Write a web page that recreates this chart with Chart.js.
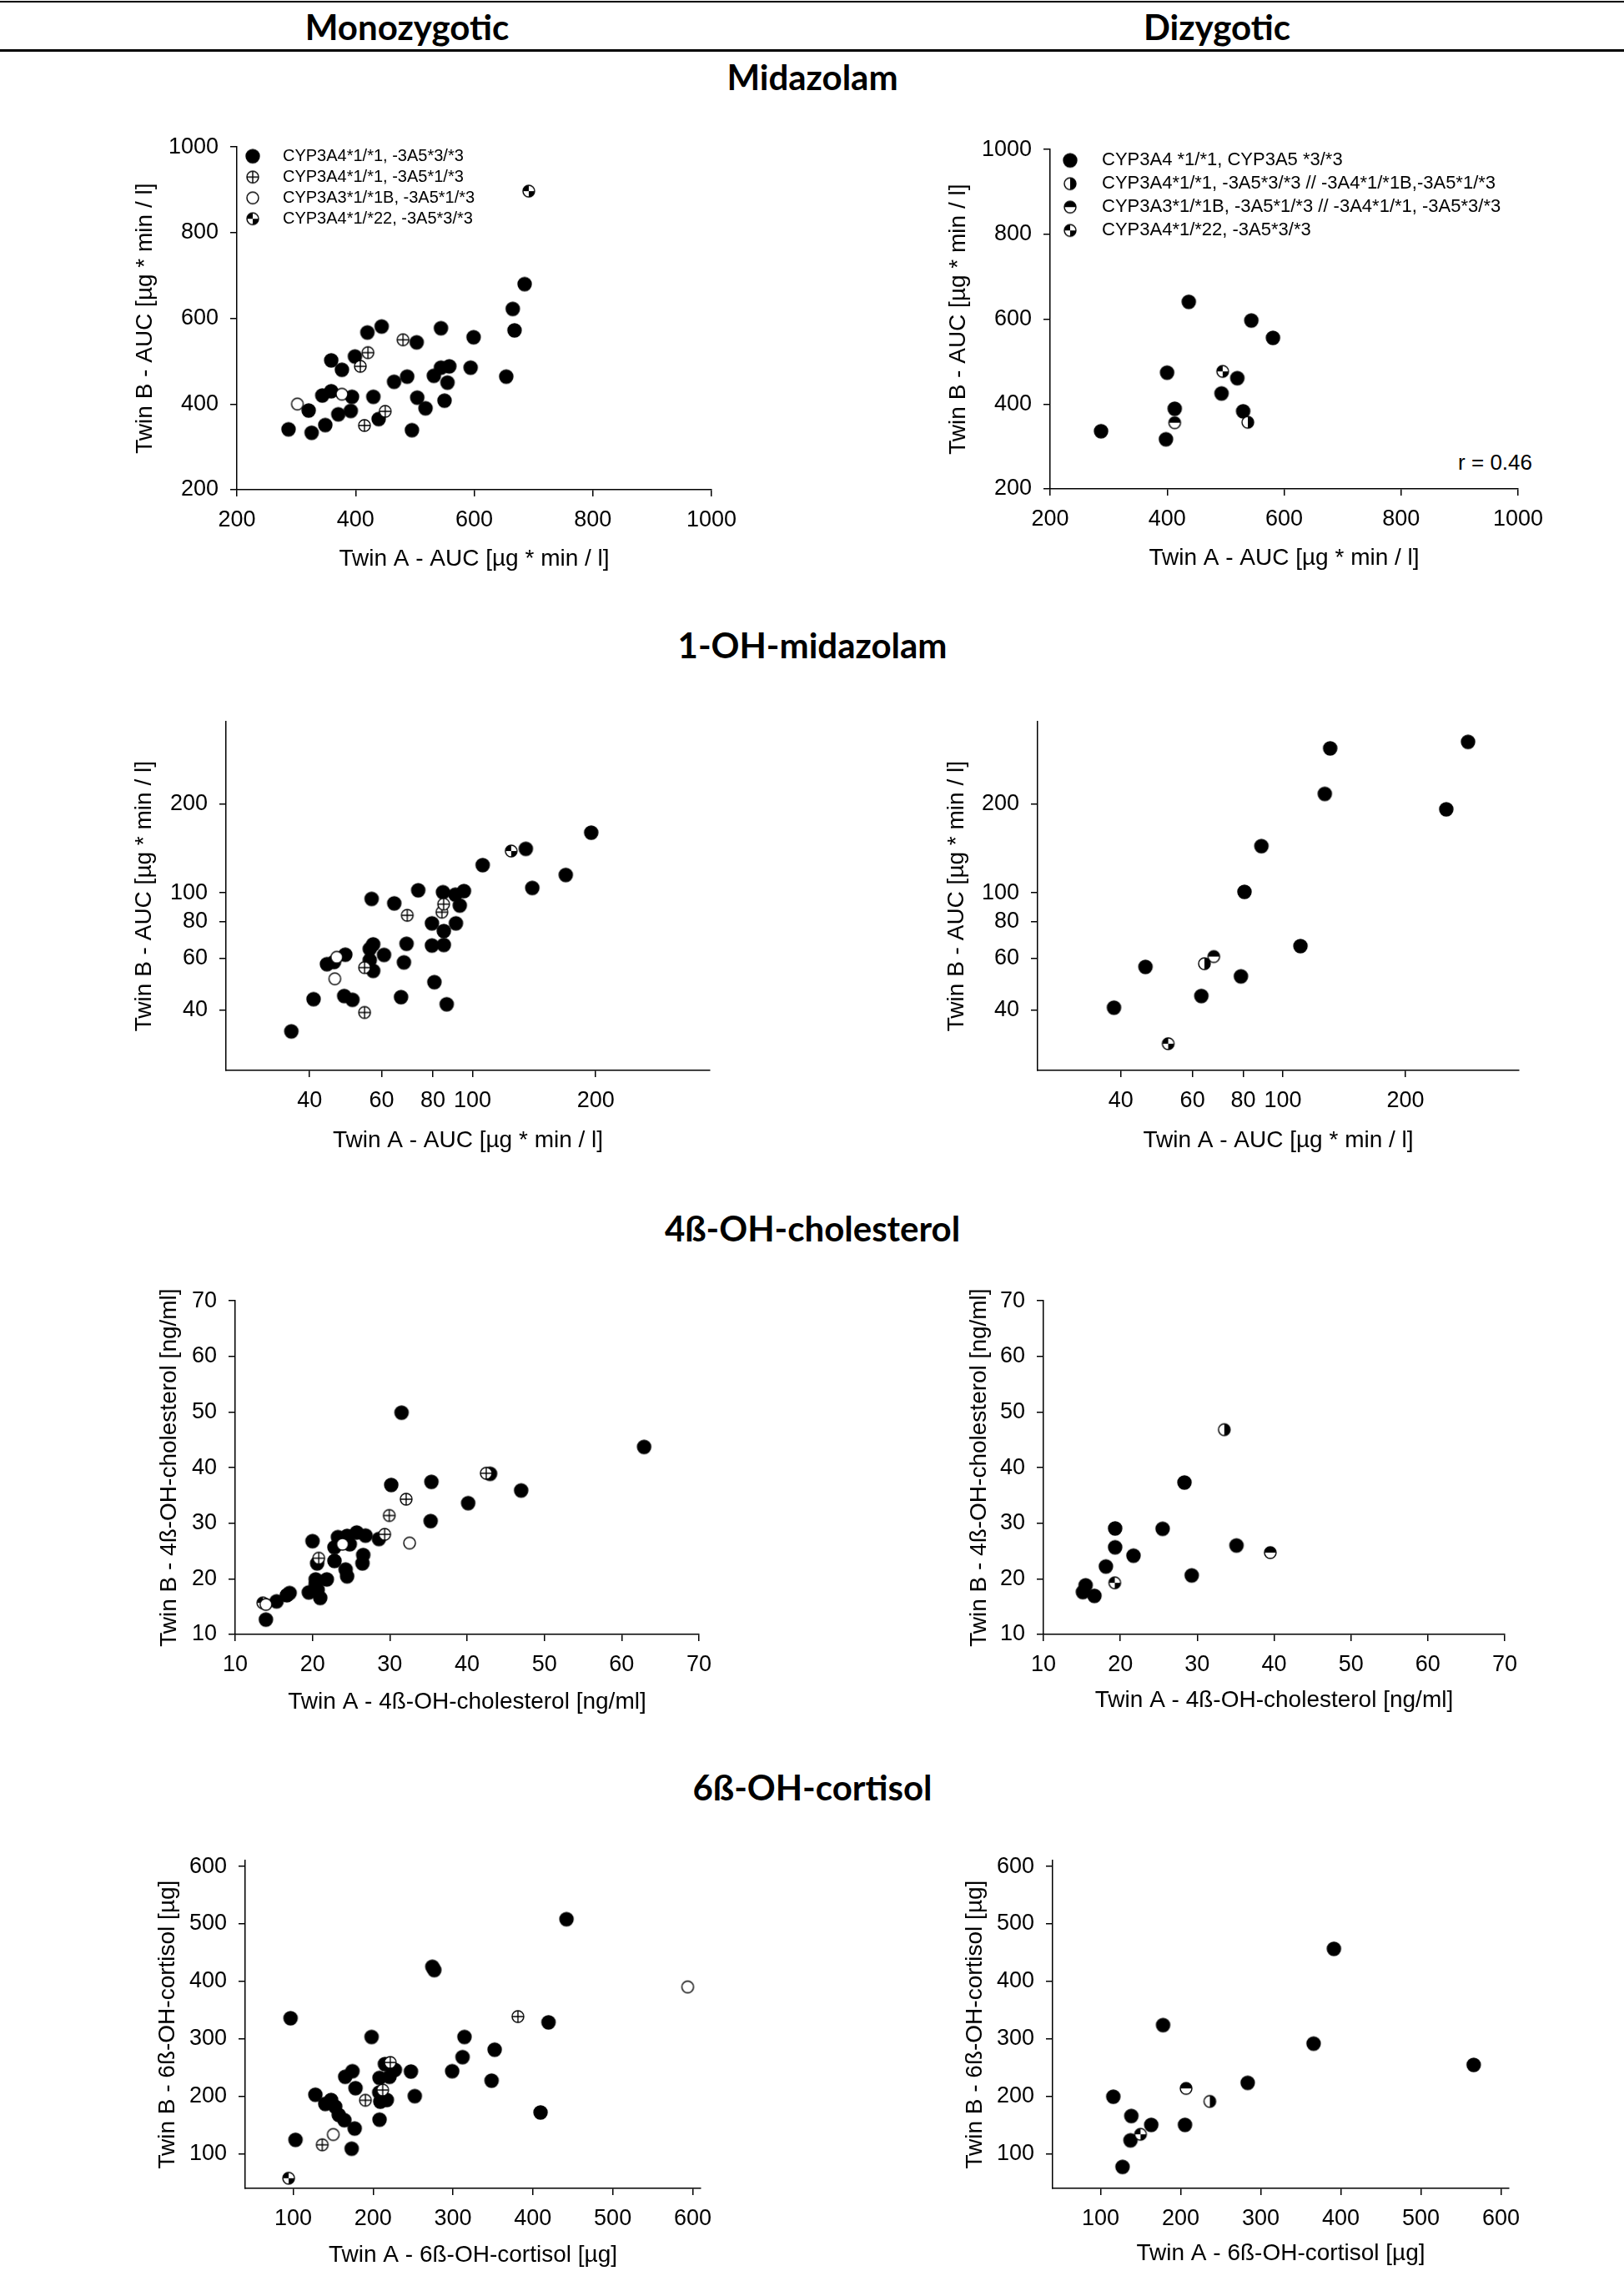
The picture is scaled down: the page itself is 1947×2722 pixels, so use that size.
<!DOCTYPE html>
<html>
<head>
<meta charset="utf-8">
<script src="https://cdn.jsdelivr.net/npm/chart.js@4.4.1/dist/chart.umd.min.js"></script>
<style>
  body { margin: 0; background: #fff; width: 1947px; height: 2722px; position: relative; overflow: hidden; }
  .hd { position: absolute; font-family: Lato, "Open Sans", sans-serif; font-weight: bold; font-size: 42px;
        line-height: 1; white-space: nowrap; transform: translateX(-50%); color: #000; }
  .rule { position: absolute; left: 0; width: 1947px; background: #000; }
  .note { position: absolute; font-family: "Liberation Sans", Arial, sans-serif; font-size: 26px; line-height: 1; color: #000; }
  canvas { position: absolute; }
</style>
</head>
<body>
<div class="rule" style="top:1px;height:2px"></div>
<div class="rule" style="top:59px;height:3px"></div>
<div class="hd" style="left:488px;top:11px">Monozygotic</div>
<div class="hd" style="left:1459px;top:11px">Dizygotic</div>
<div class="hd" style="left:974px;top:71px">Midazolam</div>
<div class="hd" style="left:974px;top:752px">1-OH-midazolam</div>
<div class="hd" style="left:974px;top:1451px">4ß-OH-cholesterol</div>
<div class="hd" style="left:974px;top:2121px">6ß-OH-cortisol</div>
<div class="note" style="right:110px;top:541px">r = 0.46</div>

<script>
// ---- data: [Twin A, Twin B] pairs ----
const midMonoFilled = [[287,341],[326,333],[321,385],[349,351],[344,420],[359,430],[359,502],[371,376],[377,480],[392,384],[394,417],[399,511],[420,567],[430,417],[439,365],[444,581],[465,452],[487,464],[495,339],[503,544],[504,415],[518,390],[532,466],[544,577],[544,485],[550,408],[555,450],[558,488],[599,556],[594,485],[654,464],[665,622],[668,572],[685,680]];
const midMonoCrossed = [[421,520],[408,488],[480,550],[450,383],[415,350]];
const midMonoOpen = [[302,400],[377,423]];
const midMonoQuarter = [[692,897]];

const midDiFilled = [[287,336],[437,641],[544,597],[581,556],[400,474],[520,461],[493,425],[413,389],[530,383],[398,317]];
const midDiVHalf = [[538,357]];
const midDiHHalf = [[413,356]];
const midDiQuarter = [[495,477]];

const ohMonoFilled = [[36.1,33.9],[40.9,43.6],[44.1,57.3],[45.9,58.3],[48.9,61.7],[48.6,44.7],[50.9,43.4],[56.7,95.4],[56.1,64.5],[57.2,66.9],[56.1,59.1],[57.2,54.4],[60.8,61.6],[64.4,92.1],[66.9,44.3],[68.0,58.1],[69.0,67.2],[73.7,102],[79.6,78.8],[79.6,66.3],[80.7,49.8],[84.7,100.5],[85.1,74.2],[85.1,66.6],[86.5,41.9],[90.8,98.6],[91.1,78.8],[93.1,90.6],[95.3,101.4],[105.9,124.2],[135,141],[140,103.9],[169,115],[195,160]];
const ohMonoCrossed = [[54.5,55.8],[54.5,39.3],[69.3,83.9],[84.2,86],[85,91.6]];
const ohMonoOpen = [[46.6,60.5],[46.1,51.1]];
const ohMonoQuarter = [[124.3,138.6]];

const ohDiFilled = [[38.5,40.8],[46.0,56.1],[63.1,44.7],[78.9,52.1],[80.5,100.8],[88.6,144],[110.5,66],[126.8,216.6],[130.7,309],[252,192],[285,325]];
const ohDiVHalf = [[64.2,57.5]];
const ohDiHHalf = [[67.7,60.8]];
const ohDiQuarter = [[52.3,30.8]];

const cholMonoFilled = [[13.97,12.67],[15.35,15.94],[16.69,17.06],[17.04,17.44],[19.52,17.56],[20.0,26.78],[20.41,19.89],[20.41,19.0],[20.66,18.0],[21.0,16.56],[20.6,22.78],[21.85,19.89],[22.84,23.22],[22.84,25.67],[23.29,27.5],[24.28,21.67],[24.48,20.44],[24.48,27.72],[24.82,26.22],[25.72,28.33],[26.86,27.78],[26.56,24.28],[26.46,22.78],[28.59,27.17],[31.52,49.89],[30.18,36.89],[35.38,37.44],[35.28,30.39],[40.14,33.61],[42.97,38.89],[46.99,35.89],[62.9,43.72]];
const cholMonoCrossed = [[20.81,23.72],[29.34,28.0],[29.93,31.39],[32.11,34.33],[42.47,39.0]];
const cholMonoOpen = [[23.88,26.22],[32.56,26.44],[13.97,15.39]];
const cholMonoQuarter = [[13.57,15.67]];

const cholDiFilled = [[15.13,17.61],[15.48,18.83],[16.63,16.94],[18.12,22.22],[19.32,25.67],[19.32,29.06],[21.71,24.17],[25.5,29.0],[28.34,37.33],[29.28,20.61],[35.11,26.0]];
const cholDiVHalf = [[33.52,46.83]];
const cholDiHHalf = [[39.5,24.72]];
const cholDiQuarter = [[19.27,19.28]];

const cortMonoFilled = [[96.7,336],[102.9,124.5],[127.8,202.9],[140.2,187],[147.4,193.8],[152.6,182.2],[157,167.8],[164.1,158.7],[165.1,234.1],[174.2,243.8],[177,144.2],[173.2,109.1],[178,214.4],[198.1,303.4],[208.1,232.2],[207.7,206.7],[208.1,159.6],[209.1,190.9],[217.2,193.8],[214.8,256.3],[220.6,234.1],[227.3,246.2],[247.4,243.3],[252.2,200.5],[274.2,425.5],[276.6,419.7],[299,243.8],[312,268.3],[314.4,303.4],[348.3,227.4],[352.2,281.3],[409.6,172.1],[419.6,328.8],[442.1,508.2]];
const cortMonoCrossed = [[136.4,115.9],[190.4,193.3],[212,211.1],[221.5,259.1],[381.3,338.9]];
const cortMonoOpen = [[150.2,133.7],[593.8,390.4]];
const cortMonoQuarter = [[94.3,57.7]];

const cortDiFilled = [[115.8,199.5],[127.3,77.4],[138.3,165.9],[137.3,123.6],[163.2,150.5],[178,324],[205.3,150.5],[283.7,223.6],[366,291.8],[391.4,456.7],[566,254.8]];
const cortDiVHalf = [[236.4,191.3]];
const cortDiHHalf = [[206.7,213.9]];
const cortDiQuarter = [[149.8,134.1]];

// tick labels
const aucTicks = [200, 400, 600, 800, 1000];
const logTicks = [40, 60, 80, 100, 200];
const cholTicks = [10, 20, 30, 40, 50, 60, 70];
const cortTicks = [100, 200, 300, 400, 500, 600];

// legend texts
const monoLabels = ['CYP3A4*1/*1, -3A5*3/*3', 'CYP3A4*1/*1, -3A5*1/*3', 'CYP3A3*1/*1B, -3A5*1/*3', 'CYP3A4*1/*22, -3A5*3/*3'];
const diLabels = ['CYP3A4 *1/*1, CYP3A5 *3/*3', 'CYP3A4*1/*1, -3A5*3/*3 // -3A4*1/*1B,-3A5*1/*3', 'CYP3A3*1/*1B, -3A5*1/*3 // -3A4*1/*1, -3A5*3/*3', 'CYP3A4*1/*22, -3A5*3/*3'];

const aucX = 'Twin A - AUC [µg * min / l]', aucY = 'Twin B - AUC [µg * min / l]';
const cholX = 'Twin A - 4ß-OH-cholesterol [ng/ml]', cholY = 'Twin B - 4ß-OH-cholesterol [ng/ml]';
const cortX = 'Twin A - 6ß-OH-cortisol [µg]', cortY = 'Twin B - 6ß-OH-cortisol [µg]';

Chart.defaults.font.family = "'Liberation Sans', Arial, sans-serif";
Chart.defaults.color = '#000';

// symbol images (SigmaPlot style circles)
function marker(kind, d) {
  const c = document.createElement('canvas');
  c.width = c.height = d + 4;
  const g = c.getContext('2d');
  const m = (d + 4) / 2, r = d / 2;
  const slice = (a0, a1) => { g.beginPath(); g.moveTo(m, m); g.arc(m, m, r, a0, a1); g.closePath(); g.fill(); };
  g.fillStyle = kind === 'filled' ? '#000' : '#fff';
  g.beginPath(); g.arc(m, m, r, 0, Math.PI * 2); g.fill();
  g.fillStyle = '#000';
  if (kind === 'quarter') { slice(Math.PI, Math.PI * 1.5); slice(0, Math.PI / 2); }
  if (kind === 'vhalf') slice(-Math.PI / 2, Math.PI / 2);
  if (kind === 'hhalf') slice(Math.PI, Math.PI * 2);
  g.strokeStyle = '#000'; g.lineWidth = 1.4;
  if (kind === 'crossed') {
    g.beginPath(); g.moveTo(m - r, m); g.lineTo(m + r, m); g.moveTo(m, m - r); g.lineTo(m, m + r); g.stroke();
  }
  g.beginPath(); g.arc(m, m, r, 0, Math.PI * 2); g.stroke();
  return c;
}
const sym = {
  filled: marker('filled', 16), crossed: marker('crossed', 14), open: marker('open', 14),
  quarter: marker('quarter', 14), vhalf: marker('vhalf', 14), hhalf: marker('hhalf', 14)
};

const pts = arr => arr.map(([x, y]) => ({x, y}));

function ds(label, arr, style, order) {
  return { label, data: pts(arr), pointStyle: sym[style], pointRadius: 8, pointHoverRadius: 8, order, clip: false };
}

function axis(type, min, max, ticks, title, size, horizontal) {
  return {
    type, min, max,
    border: { display: true, color: '#000', width: 1.5 },
    grid: { drawOnChartArea: false, color: '#000', lineWidth: 1.5, tickLength: 8 },
    ticks: { autoSkip: false, maxRotation: 0, padding: horizontal ? 12 : 14, color: '#000',
             font: { size: 27 }, callback: v => String(v) },
    afterBuildTicks: s => { s.ticks = ticks.map(v => ({ value: v })); },
    title: { display: true, text: title, color: '#000', font: { size: 28 }, padding: 0 },
    afterFit: s => { if (horizontal) s.height = size; else s.width = size; }
  };
}

// moves the in-plot legend to where the original has it
const legendShift = {
  id: 'legendShift',
  afterLayout(chart, args, o) {
    if (!chart.legend || !o.on) return;
    chart.legend.left = chart.chartArea.left + o.dx;
    chart.legend.top = chart.chartArea.top + o.dy;
  }
};

function panel(p) {
  const yW = p.yOff + 17, xH = p.xOff + 17, padTop = 30, padRight = 50;
  const cv = document.createElement('canvas');
  cv.width = p.R - p.L + yW + padRight;
  cv.height = p.B - p.T + padTop + xH;
  cv.style.left = (p.L - yW) + 'px';
  cv.style.top = (p.T - padTop) + 'px';
  document.body.appendChild(cv);

  const labels = p.labels;
  const datasets = [
    ds(labels[0], p.sets[0], 'filled', 2),
    ds(labels[1], p.sets[1], p.styles[1], 1),
    ds(labels[2], p.sets[2], p.styles[2], 1),
    ds(labels[3], p.sets[3], 'quarter', 1)
  ];

  return new Chart(cv, {
    type: 'scatter',
    data: { datasets },
    options: {
      responsive: false,
      animation: false,
      devicePixelRatio: 1,
      events: [],
      layout: { padding: { top: padTop, right: padRight, left: 0, bottom: 0 } },
      scales: {
        x: axis(p.type, p.min, p.max, p.ticks, p.xTitle, xH, true),
        y: axis(p.type, p.min, p.max, p.ticks, p.yTitle, yW, false)
      },
      plugins: {
        tooltip: { enabled: false },
        legend: {
          display: !!p.legend,
          position: 'chartArea',
          align: 'start',
          labels: {
            usePointStyle: true,
            pointStyleWidth: p.legend ? p.legend.w : 20,
            padding: p.legend ? p.legend.pad : 5,
            color: '#000',
            font: { size: p.legend ? p.legend.size : 20 },
            sort: (a, b) => a.datasetIndex - b.datasetIndex
          }
        },
        legendShift: p.legend ? { on: true, dx: p.legend.dx, dy: p.legend.dy } : { on: false }
      }
    },
    plugins: [legendShift]
  });
}

const monoStyles = ['filled', 'crossed', 'open', 'quarter'];
const diStyles = ['filled', 'vhalf', 'hhalf', 'quarter'];

panel({ L: 284, T: 176, R: 853, B: 587, yOff: 110, xOff: 83, type: 'linear', min: 200, max: 1000, ticks: aucTicks,
        xTitle: aucX, yTitle: aucY, labels: monoLabels, styles: monoStyles,
        sets: [midMonoFilled, midMonoCrossed, midMonoOpen, midMonoQuarter],
        legend: { size: 20, pad: 5, w: 52, dx: -12, dy: -4 } });
panel({ L: 1259, T: 179, R: 1820, B: 586, yOff: 110, xOff: 83, type: 'linear', min: 200, max: 1000, ticks: aucTicks,
        xTitle: aucX, yTitle: aucY, labels: diLabels, styles: diStyles,
        sets: [midDiFilled, midDiVHalf, midDiHHalf, midDiQuarter],
        legend: { size: 22, pad: 6, w: 54, dx: -9, dy: -4 } });
panel({ L: 271, T: 865, R: 851, B: 1283, yOff: 98, xOff: 84, type: 'logarithmic', min: 25, max: 380, ticks: logTicks,
        xTitle: aucX, yTitle: aucY, labels: monoLabels, styles: monoStyles,
        sets: [ohMonoFilled, ohMonoCrossed, ohMonoOpen, ohMonoQuarter] });
panel({ L: 1244, T: 865, R: 1821, B: 1283, yOff: 97, xOff: 84, type: 'logarithmic', min: 25, max: 380, ticks: logTicks,
        xTitle: aucX, yTitle: aucY, labels: diLabels, styles: diStyles,
        sets: [ohDiFilled, ohDiVHalf, ohDiHHalf, ohDiQuarter] });
panel({ L: 282, T: 1559, R: 838, B: 1959, yOff: 79, xOff: 81, type: 'linear', min: 10, max: 70, ticks: cholTicks,
        xTitle: cholX, yTitle: cholY, labels: monoLabels, styles: monoStyles,
        sets: [cholMonoFilled, cholMonoCrossed, cholMonoOpen, cholMonoQuarter] });
panel({ L: 1251, T: 1559, R: 1804, B: 1959, yOff: 77, xOff: 79, type: 'linear', min: 10, max: 70, ticks: cholTicks,
        xTitle: cholX, yTitle: cholY, labels: diLabels, styles: diStyles,
        sets: [cholDiFilled, cholDiVHalf, cholDiHHalf, cholDiQuarter] });
panel({ L: 294, T: 2230, R: 840, B: 2623, yOff: 93, xOff: 80, type: 'linear', min: 40, max: 610, ticks: cortTicks,
        xTitle: cortX, yTitle: cortY, labels: monoLabels, styles: monoStyles,
        sets: [cortMonoFilled, cortMonoCrossed, cortMonoOpen, cortMonoQuarter] });
panel({ L: 1262, T: 2230, R: 1809, B: 2623, yOff: 93, xOff: 78, type: 'linear', min: 40, max: 610, ticks: cortTicks,
        xTitle: cortX, yTitle: cortY, labels: diLabels, styles: diStyles,
        sets: [cortDiFilled, cortDiVHalf, cortDiHHalf, cortDiQuarter] });
</script>
</body>
</html>
